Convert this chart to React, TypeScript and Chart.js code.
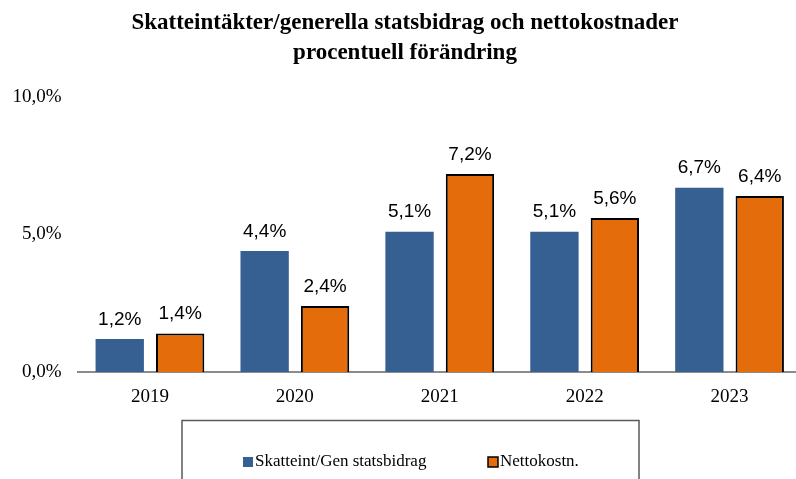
import React, { useEffect, useRef } from "react";
import { Chart, registerables } from "chart.js";

Chart.register(...registerables);

const categories = ["2019", "2020", "2021", "2022", "2023"];
const skatteValues = [1.2, 4.4, 5.1, 5.1, 6.7];
const nettoValues = [1.4, 2.4, 7.2, 5.6, 6.4];
const seriesNames = ["Skatteint/Gen statsbidrag", "Nettokostn."];
const titleLines = [
  "Skatteintäkter/generella statsbidrag och nettokostnader",
  "procentuell förändring",
];
const yTicks = [0, 5, 10];

const BLUE = "#366092";
const ORANGE = "#E46C0A";
const SERIF = "'Liberation Serif', 'Times New Roman', serif";

const fmt = (v: number) => v.toFixed(1).replace(".", ",") + "%";

const decorPlugin = {
  id: "decor",
  afterDatasetsDraw(chart: any) {
    const ctx = chart.ctx;
    ctx.save();
    ctx.font = "19px 'Liberation Sans', Arial, sans-serif";
    ctx.fillStyle = "#000";
    ctx.textAlign = "center";
    ctx.textBaseline = "bottom";
    chart.data.datasets.forEach((ds: any, di: number) => {
      const meta = chart.getDatasetMeta(di);
      meta.data.forEach((bar: any, i: number) => {
        ctx.fillText(fmt(ds.data[i]), bar.x, bar.y - 10);
      });
    });
    ctx.restore();
  },
  afterDraw(chart: any) {
    const ctx = chart.ctx;
    ctx.save();
    ctx.fillStyle = "#000";
    ctx.textAlign = "center";
    ctx.textBaseline = "middle";
    ctx.font = "bold 23px " + SERIF;
    ctx.fillText(titleLines[0], 405, 23);
    ctx.fillText(titleLines[1], 405, 53);
    ctx.strokeStyle = "#595959";
    ctx.lineWidth = 1.5;
    ctx.strokeRect(182, 420.5, 457, 80);
    ctx.font = "17px " + SERIF;
    ctx.textAlign = "left";
    ctx.textBaseline = "middle";
    ctx.fillStyle = BLUE;
    ctx.fillRect(243, 457, 10, 10);
    ctx.fillStyle = "#000";
    ctx.fillText(seriesNames[0], 255, 462);
    ctx.fillStyle = ORANGE;
    ctx.fillRect(488, 457, 10, 10);
    ctx.strokeStyle = "#000";
    ctx.lineWidth = 1.5;
    ctx.strokeRect(488, 457, 10, 10);
    ctx.fillStyle = "#000";
    ctx.fillText(seriesNames[1], 500, 462);
    ctx.restore();
  },
};

export default function App() {
  const ref = useRef<HTMLCanvasElement | null>(null);
  useEffect(() => {
    if (!ref.current) return;
    const chart = new Chart(ref.current, {
      type: "bar",
      data: {
        labels: categories,
        datasets: [
          {
            label: seriesNames[0],
            data: skatteValues,
            backgroundColor: BLUE,
            borderWidth: 0,
            categoryPercentage: 0.834,
            barPercentage: 0.8,
          },
          {
            label: seriesNames[1],
            data: nettoValues,
            backgroundColor: ORANGE,
            borderColor: "#000",
            borderWidth: 2,
            categoryPercentage: 0.834,
            barPercentage: 0.8,
          },
        ],
      },
      options: {
        responsive: false,
        animation: false,
        devicePixelRatio: 1,
        layout: { padding: { top: 97, right: 8, left: 0, bottom: 0 } },
        plugins: {
          legend: { display: false },
          title: { display: false },
          tooltip: { enabled: false },
        },
        scales: {
          x: {
            grid: { display: false, drawTicks: false },
            border: { display: true, color: "#8c8c8c", width: 2 },
            ticks: {
              color: "#000",
              padding: 14,
              font: { family: SERIF, size: 19 },
            },
            afterFit: (s: any) => {
              s.height = 107;
            },
          },
          y: {
            min: 0,
            max: 10,
            grid: { display: false, drawTicks: false },
            border: { display: false },
            afterBuildTicks: (s: any) => {
              s.ticks = yTicks.map((v) => ({ value: v }));
            },
            ticks: {
              color: "#000",
              padding: 16,
              callback: (v: any) => fmt(Number(v)),
              font: { family: SERIF, size: 19 },
            },
            afterFit: (s: any) => {
              s.width = 77.5;
            },
          },
        },
      },
      plugins: [decorPlugin],
    });
    return () => chart.destroy();
  }, []);
  return (
    <div
      style={{
        position: "fixed",
        left: 0,
        top: 0,
        width: 796,
        height: 479,
        overflow: "hidden",
        background: "#fff",
      }}
    >
      <canvas ref={ref} width={810} height={479} style={{ display: "block" }} />
    </div>
  );
}
